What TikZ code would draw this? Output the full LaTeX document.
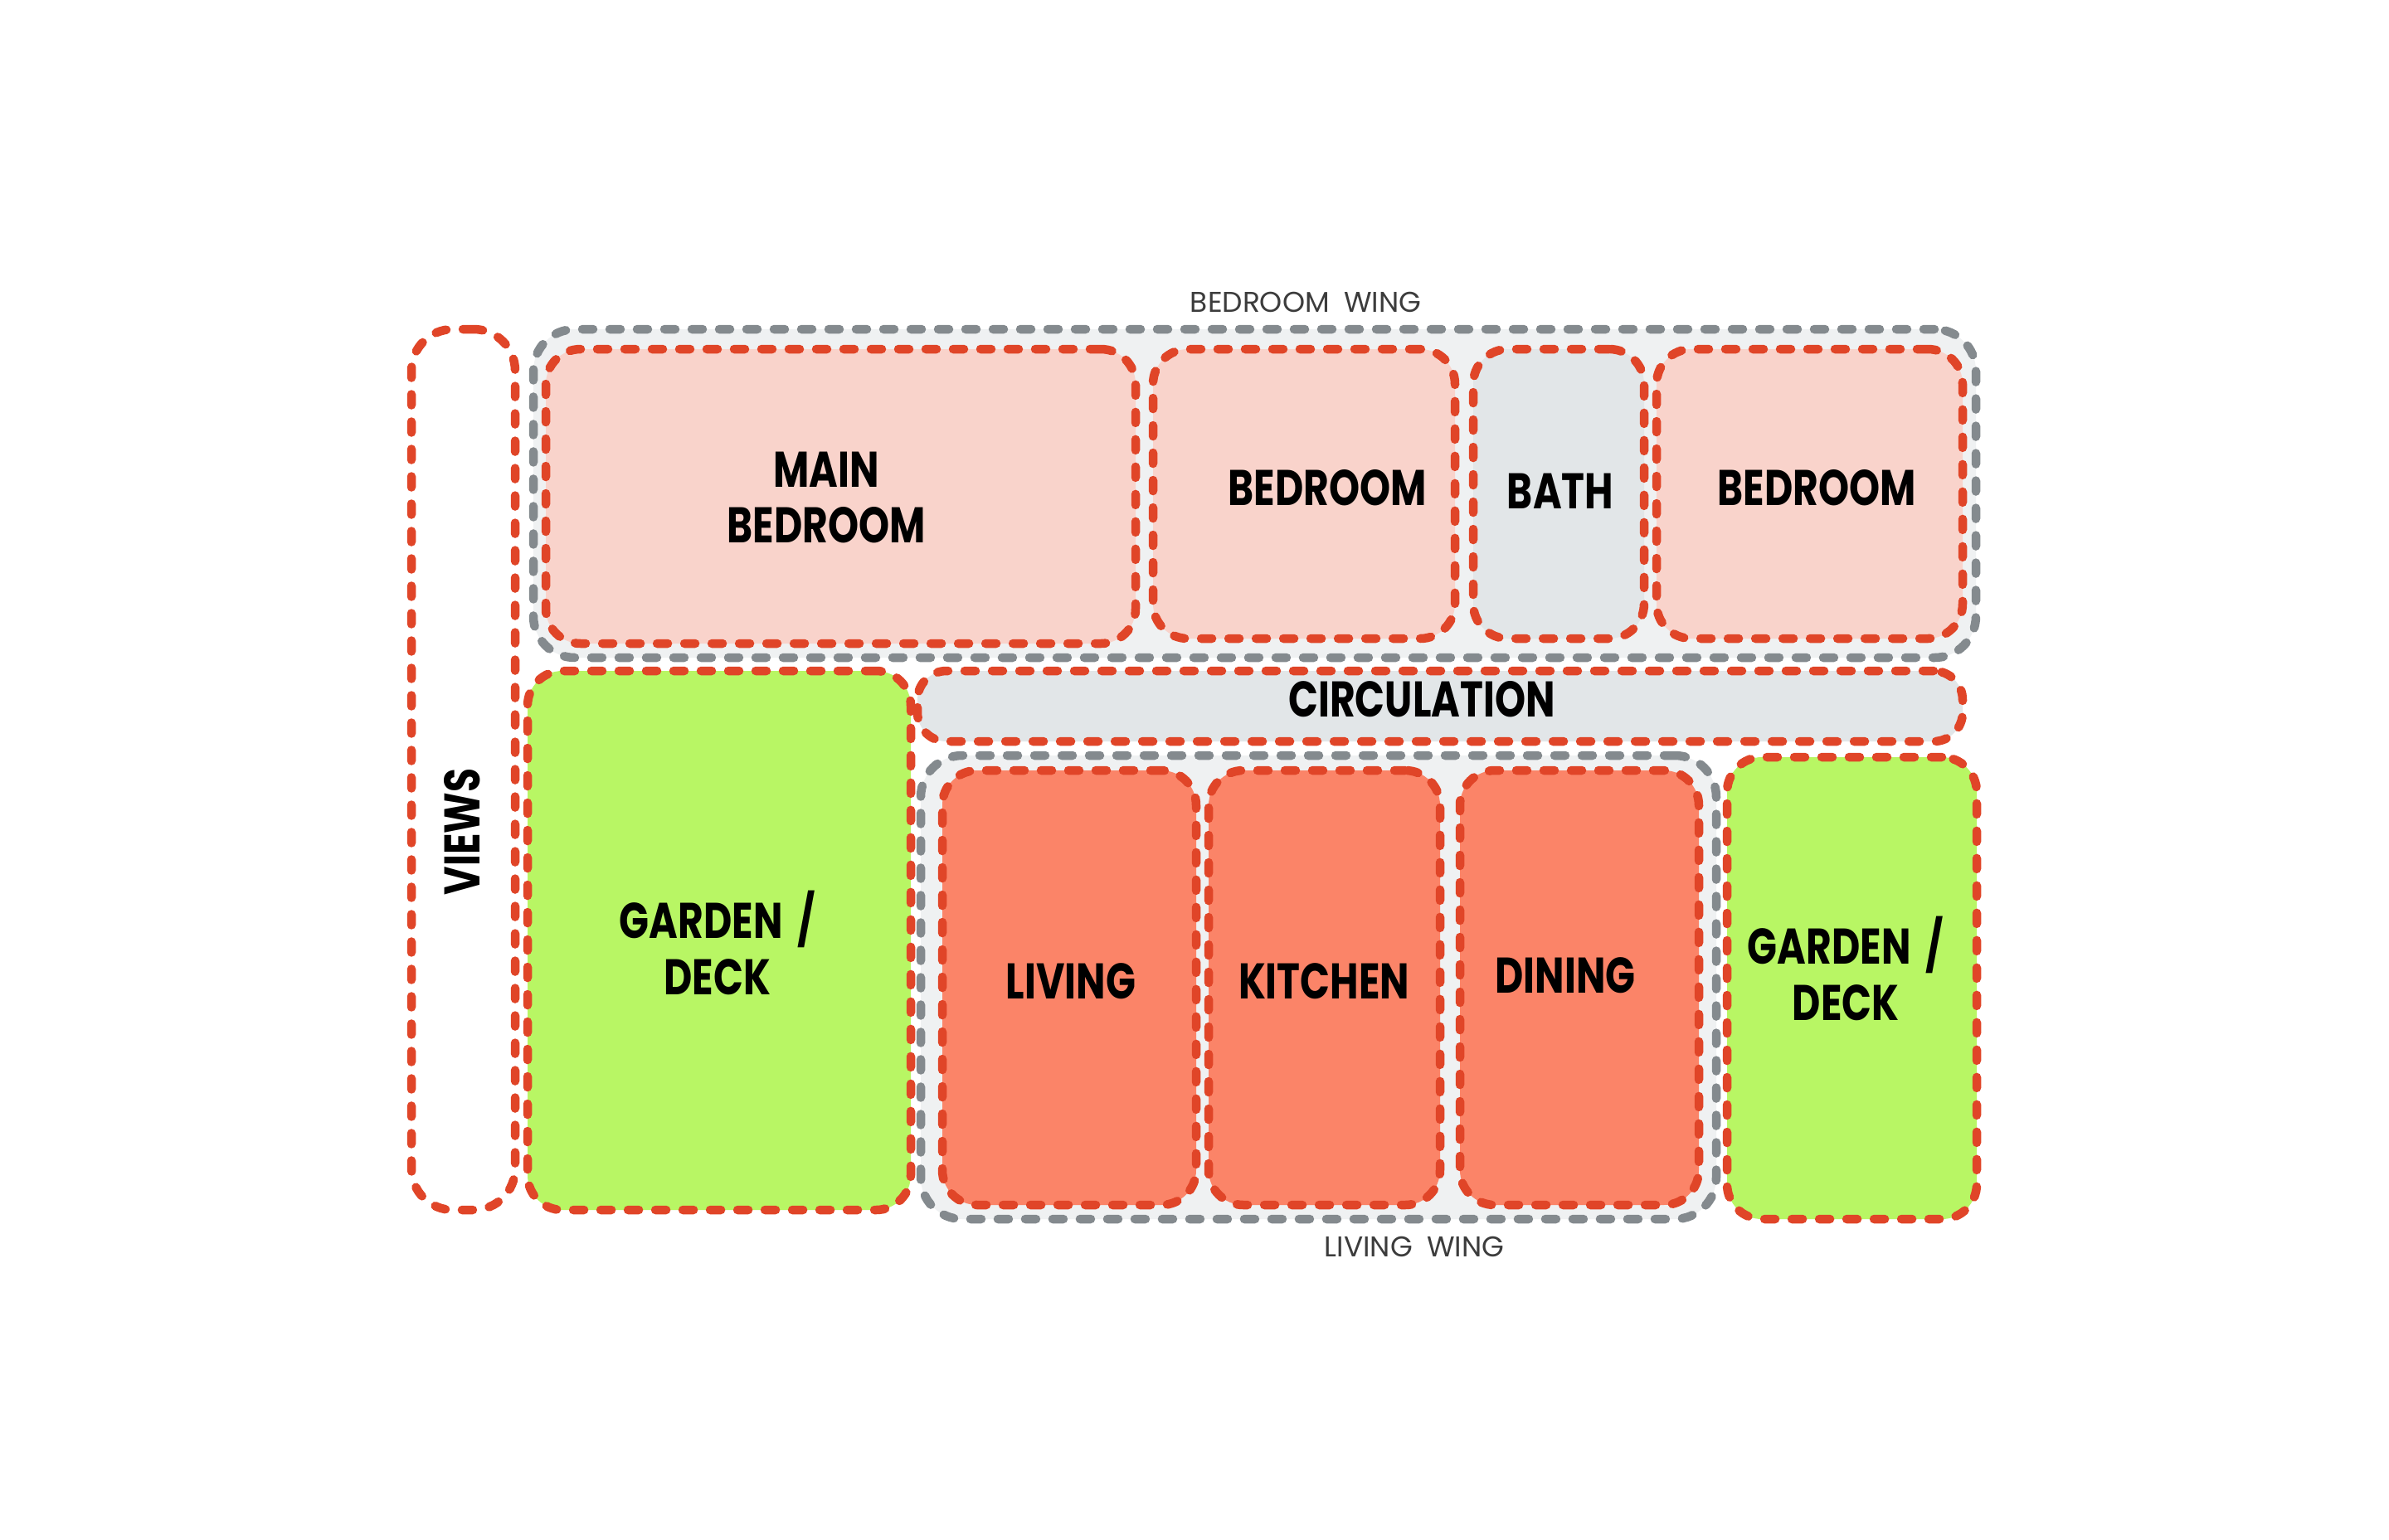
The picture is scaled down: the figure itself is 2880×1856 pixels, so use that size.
\documentclass[tikz,border=0pt]{standalone}
\usepackage{fontspec}
\newfontfamily\lblfont{Poppins}[FakeStretch=0.78]
\newfontfamily\wingfont{Poppins}
\definecolor{redline}{RGB}{224,69,40}
\definecolor{grayline}{RGB}{132,138,142}
\definecolor{pinkfill}{RGB}{249,211,203}
\definecolor{pale}{RGB}{226,230,232}
\definecolor{wingfill}{RGB}{239,241,242}
\definecolor{salmon}{RGB}{251,132,104}
\definecolor{greenfill}{RGB}{184,246,100}
\definecolor{wingtext}{RGB}{60,60,60}
\tikzset{
  dashline/.style={line width=1.05mm, dash pattern=on 1.3mm off 2.0mm, line cap=round},
  roombox/.style={rectangle, dashline, draw=redline, rounded corners=4.2mm, inner sep=0pt},
  wingbox/.style={rectangle, dashline, draw=grayline, fill=wingfill, rounded corners=5mm, inner sep=0pt},
  lbl/.style={font=\lblfont\bfseries\fontsize{17.2}{19.3}\selectfont, align=center, text=black, inner sep=0pt},
  winglbl/.style={font=\wingfont\fontsize{9.8}{11}\selectfont, text=wingtext, inner sep=0pt}
}
\begin{document}
\begin{tikzpicture}[x=0.1mm,y=-0.1mm]
\useasboundingbox (0,0) rectangle (2880,1856);
\fill[white] (0,0) rectangle (2880,1856);
% wings
\node[wingbox, minimum width=173.9mm, minimum height=39.6mm] (bwing) at (1512.5,595) {};
\node[wingbox, minimum width=95.9mm, minimum height=55.9mm] (lwing) at (1589.5,1190.5) {};
% views
\node[roombox, fill=white, rounded corners=5mm, minimum width=12.5mm, minimum height=106.2mm] (views) at (558.5,928) {};
% bedroom wing rooms
\node[roombox, fill=pinkfill, minimum width=71.1mm, minimum height=35.5mm] (mainbed) at (1013.5,598.5) {};
\node[roombox, fill=pinkfill, minimum width=36.4mm, minimum height=34.9mm] (bed2) at (1572,595.5) {};
\node[roombox, fill=pale, minimum width=20.6mm, minimum height=34.9mm] (bath) at (1879,595.5) {};
\node[roombox, fill=pinkfill, minimum width=36.9mm, minimum height=34.9mm] (bed3) at (2181.5,595.5) {};
% circulation
\node[roombox, fill=pale, rounded corners=3.5mm, minimum width=126mm, minimum height=8.5mm] (circ) at (1736,851.5) {};
% gardens
\node[roombox, fill=greenfill, minimum width=46.2mm, minimum height=65mm] (gardenL) at (867,1134) {};
\node[roombox, fill=greenfill, minimum width=30.1mm, minimum height=55.7mm] (gardenR) at (2232.5,1191.5) {};
% living wing rooms
\node[roombox, fill=salmon, minimum width=30.6mm, minimum height=52.4mm] (living) at (1289,1191) {};
\node[roombox, fill=salmon, minimum width=27.9mm, minimum height=52.4mm] (kitchen) at (1596.5,1191) {};
\node[roombox, fill=salmon, minimum width=28.8mm, minimum height=52.4mm] (dining) at (1904,1191) {};
% labels
\node[lbl] (t-main) at (996,600) {MAIN\\BEDROOM};
\node[lbl] (t-bed2) at (1600,588) {BEDROOM};
\node[lbl] (t-bath) at (1881,592) {BATH};
\node[lbl] (t-bed3) at (2190,588) {BEDROOM};
\node[lbl] (t-circ) at (1714,843) {CIRCULATION};
\node[lbl, rotate=90] (t-views) at (557,1003) {VIEWS};
\node[lbl] (t-gardenL) at (865,1137) {GARDEN\hspace{0.3em}/\\DECK};
\node[lbl] (t-living) at (1291,1183) {LIVING};
\node[lbl] (t-kitchen) at (1596,1183) {KITCHEN};
\node[lbl] (t-dining) at (1887,1176) {DINING};
\node[lbl] (t-gardenR) at (2225,1168) {GARDEN\hspace{0.3em}/\\DECK};
\node[winglbl] (t-bwing) at (1574,364) {BEDROOM\hspace{0.5em}WING};
\node[winglbl] (t-lwing) at (1705,1503) {LIVING\hspace{0.5em}WING};
\end{tikzpicture}
\end{document}
